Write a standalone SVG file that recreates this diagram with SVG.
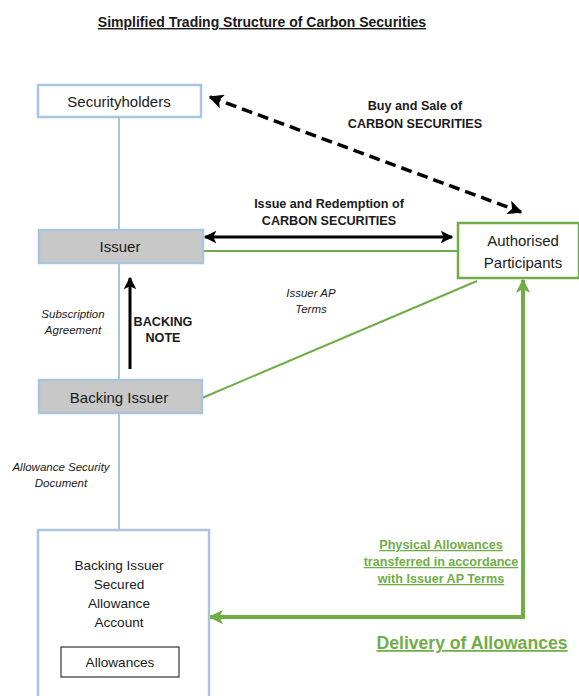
<svg xmlns="http://www.w3.org/2000/svg" width="579" height="696" viewBox="0 0 579 696">
  <defs>
    <style>
      text { font-family: "Liberation Sans", Arial, sans-serif; fill: #1a1a1a; }
      .title { font-size: 14px; font-weight: bold; text-decoration: underline; }
      .node { font-size: 15px; }
      .sub { font-size: 13.6px; }
      .lbl { font-size: 12.6px; font-weight: bold; }
      .ital { font-size: 11.5px; font-style: italic; }
      .glbl { font-size: 12.6px; font-weight: bold; fill: #70ad47; text-decoration: underline; }
      .gbig { font-size: 17.6px; font-weight: bold; fill: #70ad47; text-decoration: underline; }
      .blue-box { fill: #ffffff; stroke: #a9c4dc; stroke-width: 2.5; }
      .grey-box { fill: #c8c8c8; stroke: #a9c4dc; stroke-width: 2.5; }
      .green-box { fill: #ffffff; stroke: #70ad47; stroke-width: 2.5; }
      .blue-line { stroke: #a9c4dc; stroke-width: 2; fill: none; }
      .green-line { stroke: #70ad47; stroke-width: 2; fill: none; }
      .black-arrow { stroke: #000000; stroke-width: 3; fill: none; }
    </style>
    <marker id="blk" viewBox="0 0 10 10" refX="9" refY="5" markerWidth="4.2" markerHeight="4.2" orient="auto-start-reverse" markerUnits="strokeWidth">
      <path d="M0,0 L10,5 L0,10 L2.5,5 Z" fill="#000"/>
    </marker>
    <marker id="grn" viewBox="0 0 10 10" refX="9" refY="5" markerWidth="3.6" markerHeight="3.6" orient="auto-start-reverse" markerUnits="strokeWidth">
      <path d="M0,0 L10,5 L0,10 L2.5,5 Z" fill="#70ad47"/>
    </marker>
  </defs>

  <rect width="579" height="696" fill="#ffffff"/>

  <text class="title" x="262" y="27" text-anchor="middle">Simplified Trading Structure of Carbon Securities</text>

  <!-- connectors and their labels -->
  <g id="connectors">
    <line class="blue-line" x1="119" y1="117" x2="119" y2="230"/>
    <line class="blue-line" x1="119" y1="263" x2="119" y2="380"/>
    <line class="blue-line" x1="119" y1="413" x2="119" y2="530"/>
    <line class="green-line" x1="203" y1="251" x2="458" y2="251"/>
    <line class="green-line" x1="202" y1="398" x2="477" y2="281"/>
    <line x1="210" y1="97" x2="521" y2="212" stroke="#000" stroke-width="3.5" stroke-dasharray="11,6" marker-start="url(#blk)" marker-end="url(#blk)"/>
    <line class="black-arrow" x1="205" y1="237" x2="452" y2="237" marker-start="url(#blk)" marker-end="url(#blk)"/>
    <line class="black-arrow" x1="130" y1="369" x2="130" y2="278" marker-end="url(#blk)"/>
    <polyline points="523,280 523,617 210,617" stroke="#70ad47" stroke-width="4" fill="none" marker-start="url(#grn)" marker-end="url(#grn)"/>

    <text class="lbl" x="415" y="110" text-anchor="middle">Buy and Sale of</text>
    <text class="lbl" x="415" y="128" text-anchor="middle">CARBON SECURITIES</text>
    <text class="lbl" x="329" y="208" text-anchor="middle">Issue and Redemption of</text>
    <text class="lbl" x="329" y="225" text-anchor="middle">CARBON SECURITIES</text>
    <text class="ital" x="311" y="297" text-anchor="middle">Issuer AP</text>
    <text class="ital" x="311" y="313" text-anchor="middle">Terms</text>
    <text class="ital" x="73" y="318" text-anchor="middle">Subscription</text>
    <text class="ital" x="73" y="334" text-anchor="middle">Agreement</text>
    <text class="lbl" x="163" y="326" text-anchor="middle">BACKING</text>
    <text class="lbl" x="163" y="342" text-anchor="middle">NOTE</text>
    <text class="ital" x="61" y="471" text-anchor="middle">Allowance Security</text>
    <text class="ital" x="61" y="487" text-anchor="middle">Document</text>
    <text class="glbl" x="441" y="549" text-anchor="middle">Physical Allowances</text>
    <text class="glbl" x="441" y="566" text-anchor="middle">transferred in accordance</text>
    <text class="glbl" x="441" y="583" text-anchor="middle">with Issuer AP Terms</text>
    <text class="gbig" x="472" y="649" text-anchor="middle">Delivery of Allowances</text>
  </g>

  <g id="securityholders">
    <rect class="blue-box" x="38" y="85" width="163" height="32"/>
    <text class="node" x="119" y="107" text-anchor="middle">Securityholders</text>
  </g>

  <g id="issuer">
    <rect class="grey-box" x="39" y="230" width="164" height="33"/>
    <text class="node" x="120" y="252" text-anchor="middle">Issuer</text>
  </g>

  <g id="backing-issuer">
    <rect class="grey-box" x="39" y="380" width="163" height="33"/>
    <text class="node" x="119" y="403" text-anchor="middle">Backing Issuer</text>
  </g>

  <g id="authorised-participants">
    <rect class="green-box" x="458" y="223" width="121" height="55"/>
    <text class="node" x="523" y="246" text-anchor="middle">Authorised</text>
    <text class="node" x="523" y="268" text-anchor="middle">Participants</text>
  </g>

  <g id="secured-account">
    <rect class="blue-box" x="38" y="530" width="171" height="180"/>
    <text class="sub" x="119" y="570" text-anchor="middle">Backing Issuer</text>
    <text class="sub" x="119" y="589" text-anchor="middle">Secured</text>
    <text class="sub" x="119" y="608" text-anchor="middle">Allowance</text>
    <text class="sub" x="119" y="627" text-anchor="middle">Account</text>
    <g id="allowances">
      <rect x="61" y="647" width="118" height="30" fill="#ffffff" stroke="#333" stroke-width="1.2"/>
      <text class="sub" x="120" y="667" text-anchor="middle">Allowances</text>
    </g>
  </g>
</svg>
